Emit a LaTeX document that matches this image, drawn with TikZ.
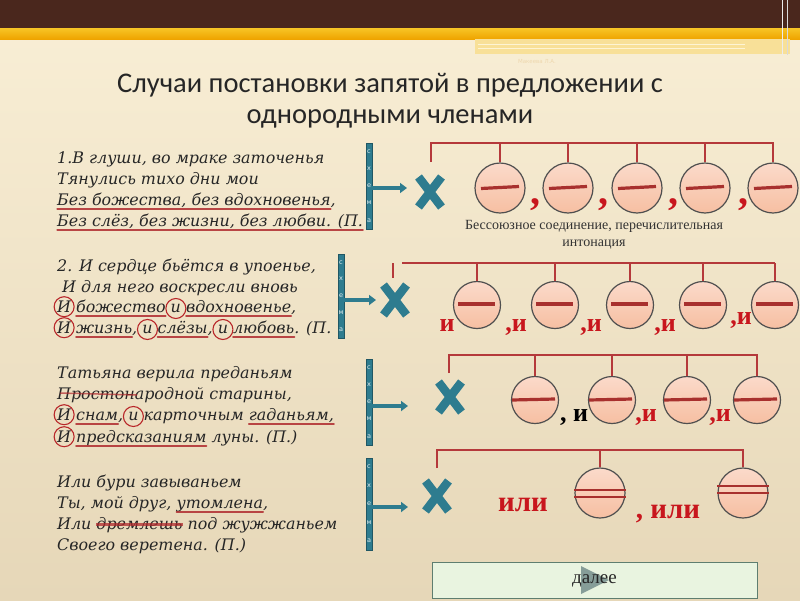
\documentclass[tikz,border=0pt]{standalone}
\usepackage{fontspec}
\setmainfont{Liberation Serif}
\newfontfamily\titlefont{Carlito}
\newfontfamily\poemfont{DejaVu Serif}
\newfontfamily\smallsans{DejaVu Sans}
\usetikzlibrary{arrows.meta}
\definecolor{brownbar}{HTML}{4A271D}
\definecolor{goldA}{HTML}{F7C526}
\definecolor{goldB}{HTML}{EFA400}
\definecolor{creamTop}{HTML}{F9EFD6}
\definecolor{creamBot}{HTML}{E6D7B8}
\definecolor{tealc}{HTML}{2E7C8F}
\definecolor{brk}{HTML}{B5393B}
\definecolor{circA}{HTML}{FBDACA}
\definecolor{circB}{HTML}{F6BFA2}
\definecolor{circE}{HTML}{4F4F4F}
\definecolor{minusc}{HTML}{A8302E}
\definecolor{redt}{HTML}{C8161D}
\definecolor{ulc}{HTML}{B02A2E}
\definecolor{poemc}{HTML}{262626}
\definecolor{btnfill}{HTML}{E9F4E0}
\definecolor{btnedge}{HTML}{5E7E70}
\tikzset{
  ulline/.style={draw=ulc,line width=1.8pt,opacity=.85,line cap=round},
  rcline/.style={draw=ulc!90!red,line width=1.1pt},
  stline/.style={draw=ulc,line width=3pt,opacity=.75},
}
\newcommand\ulw[1]{\tikz[baseline=(uw.base)]{\node[anchor=base,inner sep=0pt,outer sep=0pt,draw=none,fill=none](uw){#1};\draw[ulline,overlay] ([yshift=-4pt]uw.base west)--([yshift=-4pt]uw.base east);}}
\newcommand\rcw[1]{\tikz[baseline=(cw.base)]{\node[anchor=base,inner sep=0pt,outer sep=0pt,draw=none,fill=none](cw){#1};\draw[rcline,overlay] ([yshift=-0.5pt]cw.center) circle (10pt);}}
\newcommand\stw[1]{\tikz[baseline=(sw.base)]{\node[anchor=base,inner sep=0pt,outer sep=0pt,draw=none,fill=none](sw){#1};\draw[stline,overlay] ([yshift=4.5pt]sw.base west)--([yshift=4.5pt]sw.base east);}}
\begin{document}
\begin{tikzpicture}[x=1pt,y=-1pt,
  poem/.style={anchor=base west,inner sep=0pt,text=poemc,font=\poemfont\itshape\fontsize{15.9}{18}\selectfont},
  circ/.style={circle,draw=circE,line width=1.2pt,top color=circA,bottom color=circB,minimum size=#1,inner sep=0pt},
  circ/.default=48pt,
  minus/.style={draw=minusc,line width=3.2pt},
  bracket/.style={draw=brk,line width=2.8pt},
  xcross/.style={draw=tealc,line width=8.5pt},
  schbar/.style={fill=tealc,draw=tealc!70!black,line width=0.4pt,minimum width=6pt,inner sep=0pt},
  schl/.style={text=white!85!tealc,font=\smallsans\fontsize{6.5}{7}\selectfont,inner sep=0pt},
  sarrow/.style={draw=tealc,line width=3.8pt,-{Triangle[length=7pt,width=10pt]}},
  redlab/.style={text=redt,font=\bfseries\fontsize{26}{27}\selectfont,inner sep=0pt},
  blklab/.style={text=black,font=\bfseries\fontsize{26}{27}\selectfont,inner sep=0pt},
]
\useasboundingbox (0,0) rectangle (800,600);
% background
\shade[top color=creamTop,bottom color=creamBot] (0,0) rectangle (800,600);
\fill[brownbar] (0,0) rectangle (800,28);
\shade[top color=goldA,bottom color=goldB] (0,28) rectangle (800,39);
\fill[goldA!35!creamTop] (475,39) rectangle (790,54);
\draw[white!80!goldA,line width=0.8pt] (478,44) -- (745,44);
\draw[white!80!goldA,line width=0.8pt] (478,48.5) -- (745,48.5);
\draw[white!85!gray,line width=1pt] (782,0) -- (782,55);
\draw[white!70!gray,line width=0.8pt] (787,0) -- (787,55);
\node[text=goldA!40!brown!40!white,font=\smallsans\fontsize{5.5}{6}\selectfont] (auth) at (537,62) {Макеева Л.А.};
% title
\node[font=\titlefont\fontsize{28.5}{31}\selectfont,text=black!85,align=center,inner sep=0pt] (title) at (390,101) {Случаи постановки запятой в предложении с\\однородными членами};
% poems
\node[poem] (p11) at (57,163) {1.В глуши, во мраке заточенья};
\node[poem] (p12) at (57,184) {Тянулись тихо дни мои};
\node[poem] (p13) at (57,205) {\ulw{Без божества, без вдохновенья},};
\node[poem] (p14) at (57,226) {\ulw{Без слёз, без жизни, без любви. (П.}};
\node[poem] (p21) at (57,271) {2. И сердце бьётся в упоенье,};
\node[poem] (p22) at (62,292) {И для него воскресли вновь};
\node[poem] (p23) at (57,312) {\rcw{И} \ulw{божество} \rcw{и} \ulw{вдохновенье},};
\node[poem] (p24) at (57,333) {\rcw{И} \ulw{жизнь}, \rcw{и} \ulw{слёзы}, \rcw{и} \ulw{любовь}. (П.};
\node[poem] (p31) at (57,378) {Татьяна верила преданьям};
\node[poem] (p32) at (57,399) {Простонародной старины,};
\node[poem] (p33) at (57,420) {\rcw{И} \ulw{снам}, \rcw{и} карточным \ulw{гаданьям,}};
\node[poem] (p34) at (57,442) {\rcw{И} \ulw{предсказаниям} луны. (П.)};
\node[poem] (p41) at (57,487) {Или бури завываньем};
\node[poem] (p42) at (57,508) {Ты, мой друг, \ulw{утомлена},};
\node[poem] (p43) at (57,529) {Или \stw{дремлешь} под жужжаньем};
\node[poem] (p44) at (57,550) {Своего веретена. (П.)};
\draw[ulc,line width=1.5pt,opacity=.7] (60,393) -- (137,395);
% schema bars with arrows
\coordinate (e1) at (407,188);
\coordinate (e2) at (376,300);
\coordinate (e3) at (408,406);
\coordinate (e4) at (408,507);
\node[schbar,minimum height=86pt] (s1) at (369,186) {};
\node[schbar,minimum height=84pt] (s2) at (341,296) {};
\node[schbar,minimum height=86pt] (s3) at (369,402) {};
\node[schbar,minimum height=92pt] (s4) at (369,504) {};
\draw[sarrow] (s1.center |- e1) -- (e1);
\draw[sarrow] (s2.center |- e2) -- (e2);
\draw[sarrow] (s3.center |- e3) -- (e3);
\draw[sarrow] (s4.center |- e4) -- (e4);
\foreach \s/\h in {s1/86,s2/84,s3/86,s4/92}{
  \foreach \l [count=\i] in {с,х,е,м,а}{
    \node[schl] (\s l\i) at ([yshift={\h/2-(\i-0.5)*\h/5}]\s.center) {\l};
  }
}
% X marks
\foreach \n/\cx/\cy in {x1/430/192,x2/395/300,x3/450/397,x4/437/496}{
  \coordinate (\n) at (\cx,\cy);
  \draw[xcross] ([shift={(-11.5,-15)}]\n) -- ([shift={(11.5,15)}]\n);
  \draw[xcross] ([shift={(11.5,-15)}]\n) -- ([shift={(-11.5,15)}]\n);
}
% ---- row 1
\foreach \i/\cx in {1/500,2/568,3/637,4/705,5/773}{
  \node[circ=50pt] (c1\i) at (\cx,188) {};
  \draw[minus] ([xshift=-19pt,yshift=-0.5pt]c1\i.center) -- ([xshift=19pt,yshift=1.5pt]c1\i.center);
}
\coordinate (b1) at (0,143);
\draw[bracket] (431,162) -- (431,143) -- (773,143) -- (c15.north);
\foreach \i in {1,2,3,4}{\draw[bracket] (c1\i.north) -- (c1\i.north |- b1);}
\foreach \n/\cx in {k1/535,k2/603,k3/673,k4/743}{
  \node[text=redt,font=\bfseries\fontsize{40}{40}\selectfont,inner sep=0pt] (\n) at (\cx,205) {,};
}
\node[font=\fontsize{14}{16.5}\selectfont,text=black!80,align=center,inner sep=0pt] (cap1) at (594,235) {Бессоюзное соединение, перечислительная\\интонация};
% ---- row 2
\foreach \i/\cx in {1/477,2/555,3/630,4/703,5/775}{
  \node[circ=47pt] (c2\i) at (\cx,305) {};
  \draw[minus] ([xshift=-19pt,yshift=1pt]c2\i.center) -- ([xshift=18pt,yshift=1pt]c2\i.center);
}
\coordinate (b2) at (0,263);
\draw[bracket] (393,263) -- (393,278);
\draw[bracket] (402,263) -- (775,263);
\foreach \i in {1,2,3,4,5}{\draw[bracket] (c2\i.north) -- (c2\i.north |- b2);}
\node[redlab,anchor=base] (r21) at (447,331) {и};
\node[redlab,anchor=base] (r22) at (516,331) {,и};
\node[redlab,anchor=base] (r23) at (591,331) {,и};
\node[redlab,anchor=base] (r24) at (665,331) {,и};
\node[redlab,anchor=base] (r25) at (741,324) {,и};
% ---- row 3
\foreach \i/\cx in {1/535,2/612,3/687,4/757}{
  \node[circ=47pt] (c3\i) at (\cx,400) {};
  \draw[minus] ([xshift=-23pt,yshift=0pt]c3\i.center) -- ([xshift=20pt,yshift=1pt]c3\i.center);
}
\coordinate (b3) at (0,355);
\draw[bracket] (449,373) -- (449,355) -- (757,355) -- (c34.north);
\foreach \i in {1,2,3}{\draw[bracket] (c3\i.north) -- (c3\i.north |- b3);}
\node[blklab,anchor=base] (r31) at (574,421) {, и};
\node[redlab,anchor=base] (r32) at (646,421) {,и};
\node[redlab,anchor=base] (r33) at (720,421) {,и};
% ---- row 4
\foreach \i/\cx in {1/600,2/743}{
  \node[circ=50pt] (c4\i) at (\cx,493) {};
}
\draw[minus,line width=2.6pt] ([yshift=3pt]c41.west) -- ([yshift=3pt]c41.east);
\draw[minus,line width=2.6pt] ([yshift=-4pt]c41.west) -- ([yshift=-4pt]c41.east);
\draw[minus,line width=2.6pt] ([yshift=7pt]c42.west) -- ([yshift=7pt]c42.east);
\draw[minus,line width=2.6pt] ([yshift=0pt]c42.west) -- ([yshift=0pt]c42.east);
\coordinate (b4) at (0,450);
\draw[bracket] (437,468) -- (437,450) -- (743,450) -- (c42.north);
\draw[bracket] (c41.north) -- (c41.north |- b4);
\node[redlab,anchor=base,font=\bfseries\fontsize{29}{30}\selectfont] (r41) at (523,511) {или};
\node[redlab,anchor=base,font=\bfseries\fontsize{29}{30}\selectfont] (r42) at (668,518) {, или};
% ---- button
\node[draw=btnedge,fill=btnfill,line width=1pt,minimum width=325pt,minimum height=36pt,inner sep=0pt] (btn) at (594.5,580) {};
\fill[gray!80!teal,opacity=.75] (581,566) -- (581,594) -- (609,580) -- cycle;
\node[font=\fontsize{19}{20}\selectfont,text=black!85,inner sep=0pt] (next) at ([yshift=-1pt]btn.center) {далее};
\end{tikzpicture}
\end{document}
